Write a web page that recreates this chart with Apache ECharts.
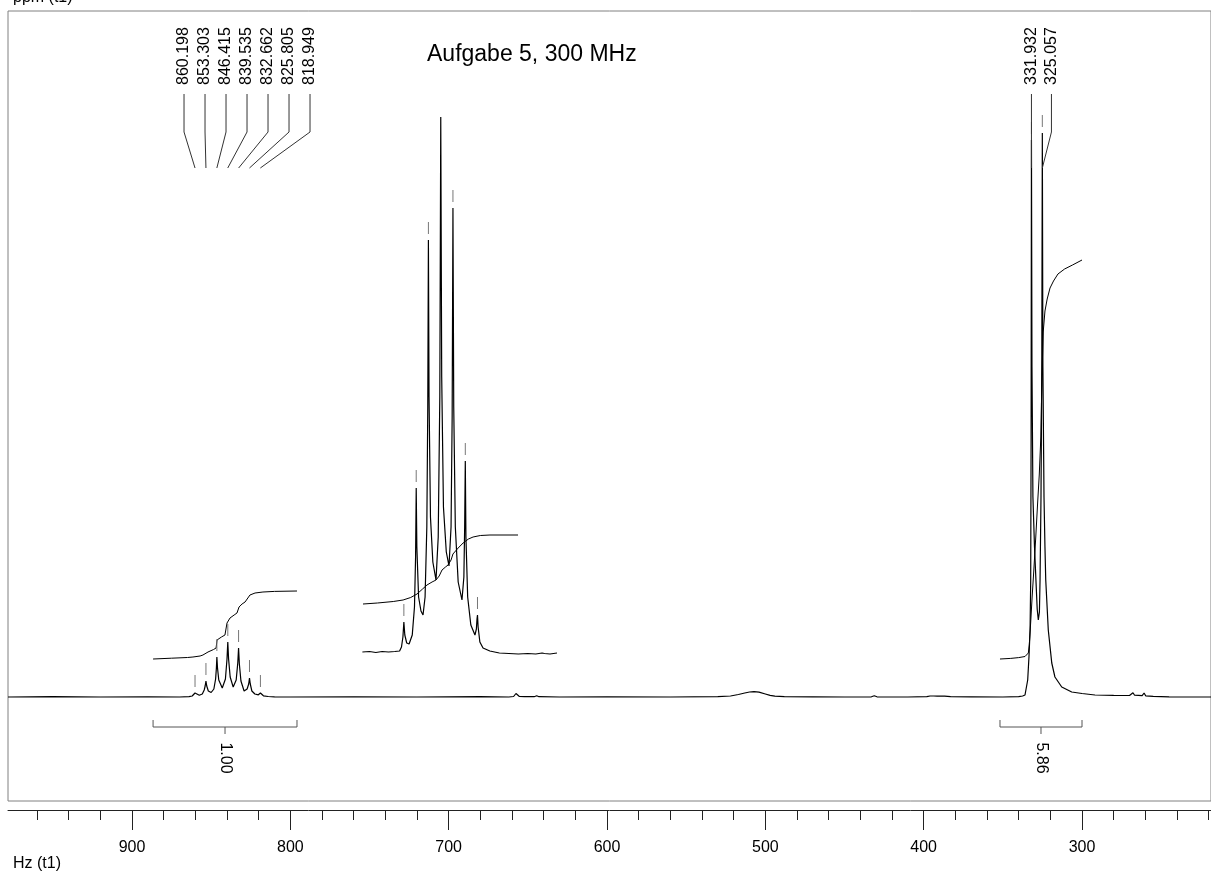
<!DOCTYPE html>
<html>
<head>
<meta charset="utf-8">
<title>Aufgabe 5, 300 MHz</title>
<script src="https://cdn.jsdelivr.net/npm/echarts@6.0.0/dist/echarts.min.js"></script>
<style>
  html, body { margin: 0; padding: 0; background: #fff; }
  #chart { width: 1211px; height: 873px; }
</style>
</head>
<body>
<div id="chart"></div>
<script>
// all traces are [Hz, intensity]
var spectrum = [
  [978.3, 0], [950, 0.3], [920, 0], [890, 0.2], [870, 0],
  [864, 0.4], [862, 1], [861, 2.3], [860.2, 4], [859.4, 2.3], [857.5, 1.8],
  [855.6, 3], [854.4, 7], [853.8, 11], [853.3, 16], [852.8, 11], [851.8, 6], [850.0, 4.5],
  [848.3, 8], [847.2, 18], [846.7, 29], [846.4, 40], [846.0, 29], [845.2, 17], [843.0, 9],
  [841.0, 18], [840.0, 38], [839.5, 55], [839.0, 38], [838.0, 20], [836.1, 10],
  [834.2, 17], [833.2, 34], [832.7, 49], [832.2, 33], [831.2, 16], [829.2, 6],
  [827.3, 8], [826.3, 13], [825.8, 19], [825.3, 13], [824.3, 6], [822.4, 3],
  [820.2, 2.2], [819.4, 3], [818.9, 4], [818.4, 2.5], [817, 1.2], [814, 0.5], [810, 0.2],
  [800, 0], [760, 0.2], [720, 0], [680, 0.3], [662, 0], [659, 0.5], [658, 2], [657.5, 3.5],
  [657, 2], [655.5, 0.7], [652, 0.3], [646, 0.3], [644.4, 1.2], [643, 0.3], [630, 0],
  [600, 0.2], [560, 0], [530, 0.3], [522, 1], [517, 2.5], [513, 4], [510, 5], [507.2, 5.4],
  [504, 4.8], [500, 3], [497, 1.6], [494, 0.8], [488, 0.4], [470, 0.2], [450, 0],
  [433, 0.2], [431.2, 1.2], [429.5, 0.2], [410, 0], [398, 0.3], [396, 1], [394.9, 2.7],
  [393.6, 1], [391.5, 0.8], [389.2, 1], [388.0, 2.7], [386.8, 0.8], [383, 0.4], [370, 0.2],
  [350, 0], [340, 0.3], [337.5, 1], [336.0, 2], [334.3, 17], [333.5, 40], [332.8, 67],
  [332.4, 117], [332.15, 260], [331.93, 557], [331.6, 330], [331.0, 200], [330.0, 150],
  [329.1, 117], [328.3, 88], [327.6, 77], [326.9, 85], [326.5, 117], [325.9, 200],
  [325.4, 330], [325.06, 564], [324.7, 330], [324.0, 200], [323.4, 150], [322.9, 117],
  [321.3, 67], [319.1, 34], [317.1, 20], [312.8, 10], [306.5, 5], [300, 3.5], [291.8, 2],
  [280, 1.6], [270, 1.5], [268.8, 2], [267.8, 4.3], [266.8, 1.8], [262, 1.4], [260.8, 4],
  [259.8, 1.2], [255, 0.6], [245, 0.2], [218.5, 0]
];

// vertically expanded copy of the septet, drawn above the baseline
var insetSpectrum = [
  [754.5, 45], [750, 45.5], [746, 44.5], [742, 45.5], [738, 45], [734, 45.5], [731, 46],
  [729.8, 50], [728.9, 60], [728.3, 75], [727.7, 62], [726.5, 54], [725.0, 53],
  [723.0, 62], [721.6, 90], [720.9, 140], [720.5, 209], [720.1, 150], [719.0, 100],
  [717.5, 86], [716.2, 82], [714.9, 100], [713.8, 170], [713.2, 290], [712.8, 457],
  [712.4, 300], [711.5, 180], [710.0, 135], [708.0, 117], [706.6, 160], [705.6, 300],
  [705.0, 580], [704.4, 320], [703.3, 190], [701.5, 145], [699.8, 131], [698.5, 170],
  [697.8, 280], [697.3, 489], [696.8, 290], [695.8, 170], [694.0, 115], [691.6, 97],
  [690.4, 120], [689.9, 170], [689.5, 236], [689.1, 160], [688.0, 100], [686.0, 72],
  [683.4, 62], [682.5, 68], [682.1, 78], [681.8, 82], [681.4, 70], [680.3, 55], [678.3, 49],
  [674, 46], [668, 44], [662, 43.5], [656, 43], [650, 43.5], [645, 43], [641, 44],
  [640.4, 46], [639.5, 43.5], [636, 43], [631.6, 44]
];

var integralSeptet = [
  [886.7, 38], [875, 38.8], [865, 39.5], [861.5, 40], [857, 41], [855.2, 42], [852.0, 45],
  [848.5, 47.5], [846.9, 49], [846.3, 57], [843.5, 60], [841.3, 62], [840.0, 74],
  [838.1, 79], [835.5, 82], [833.7, 84], [832.4, 90], [830.5, 93], [828.6, 95],
  [825.5, 102], [822.3, 104], [817.3, 105], [810, 105.6], [795.8, 106]
];

var integralDoublet = [
  [351.8, 38], [345, 38.6], [340, 39.4], [336.0, 40.5], [333.9, 44], [333.3, 52],
  [332.4, 75], [331.5, 100], [330.5, 125], [329.2, 160], [328.0, 195], [327.0, 222],
  [326.0, 260], [325.3, 320], [324.5, 365], [323.4, 386], [322.0, 398], [320.2, 409],
  [318.0, 416], [315.2, 423], [311, 428], [306, 432], [300.0, 437]
];

var integralInset = [
  [754.1, 93], [745, 94], [735, 95.5], [728.8, 97], [724, 99.5], [720.0, 103],
  [716.5, 108], [713.7, 112], [710.5, 115], [708.0, 117], [706, 121], [704.2, 127],
  [702, 130], [700.4, 132], [698.5, 137], [697.3, 143], [694, 149], [690.9, 154],
  [687.5, 158], [684.6, 160], [680, 161.5], [673.9, 162], [656.2, 162]
];

// peak picking
var septetPeaks = [860.198, 853.303, 846.415, 839.535, 832.662, 825.805, 818.949];
var doubletPeaks = [331.932, 325.057];

// small "|" marks above picked peaks [Hz, peak top]
var markedPeaks = [
  [860.2, 4], [853.3, 16], [846.4, 40], [839.5, 55], [832.7, 49], [825.8, 19], [818.9, 4],
  [331.93, 557], [325.06, 564],
  [728.3, 75], [720.5, 209], [712.8, 457], [697.3, 489], [689.5, 236], [681.8, 82]
];

// integration ranges [from, to] and values
var integralRanges = [[886.7, 795.8], [351.8, 300.0]];
var integralValues = [1.00, 5.86];

var majorTicks = [300, 400, 500, 600, 700, 800, 900];
var minorTicks = [220, 240, 260, 280, 300, 320, 340, 360, 380, 400, 420, 440, 460, 480, 500,
  520, 540, 560, 580, 600, 620, 640, 660, 680, 700, 720, 740, 760, 780, 800, 820, 840,
  860, 880, 900, 920, 940, 960];

var FONT = '"Liberation Sans", Arial, sans-serif';

// label spreading per group: pixel offset of first label from first peak, spacing
var labelLayout = [
  { first: septetPeaks[0], offset: -11, spacing: 21 },
  { first: doubletPeaks[0], offset: 0, spacing: 20 }
];

var labelData = septetPeaks.map(function (v, i) { return [v, 0, 0, i]; })
  .concat(doubletPeaks.map(function (v, i) { return [v, 0, 1, i]; }));

var bracketData = integralRanges.map(function (r, i) {
  return [r[0], 0, r[1], integralValues[i]];
});

function renderPeakLabel(params, api) {
  var lay = labelLayout[api.value(2)];
  var top = params.coordSys.y;
  var px = api.coord([api.value(0), 0])[0];
  var lx = api.coord([lay.first, 0])[0] + lay.offset + api.value(3) * lay.spacing;
  return {
    type: 'group',
    children: [
      {
        type: 'polyline',
        shape: { points: [[lx, top + 83], [lx, top + 121], [px, top + 157]] },
        style: { stroke: '#333', lineWidth: 1, fill: 'none' }
      },
      {
        type: 'text',
        x: lx, y: top + 74,
        rotation: Math.PI / 2,
        style: {
          text: api.value(0).toFixed(3), fill: '#000',
          fontSize: 16, fontFamily: FONT,
          align: 'left', verticalAlign: 'middle'
        }
      }
    ]
  };
}

function renderMark(params, api) {
  var p = api.coord([api.value(0), api.value(1)]);
  return {
    type: 'line',
    shape: { x1: p[0], y1: p[1] - 18, x2: p[0], y2: p[1] - 6 },
    style: { stroke: '#777', lineWidth: 1 }
  };
}

function renderBracket(params, api) {
  var a = api.coord([api.value(0), 0]);
  var b = api.coord([api.value(2), 0]);
  var mid = (a[0] + b[0]) / 2;
  var y = a[1];
  return {
    type: 'group',
    children: [
      {
        type: 'polyline',
        shape: { points: [[a[0], y + 23], [a[0], y + 30], [b[0], y + 30], [b[0], y + 23]] },
        style: { stroke: '#555', lineWidth: 1, fill: 'none' }
      },
      {
        type: 'line',
        shape: { x1: mid, y1: y + 30, x2: mid, y2: y + 37 },
        style: { stroke: '#555', lineWidth: 1 }
      },
      {
        type: 'text',
        x: mid, y: y + 61,
        rotation: -Math.PI / 2,
        style: {
          text: api.value(3).toFixed(2), fill: '#000',
          fontSize: 16, fontFamily: FONT,
          align: 'center', verticalAlign: 'middle'
        }
      }
    ]
  };
}

var chart = echarts.init(document.getElementById('chart'));

var lineSeries = function (name, data, width) {
  return {
    name: name,
    type: 'line',
    data: data,
    showSymbol: false,
    symbol: 'none',
    lineStyle: { color: '#000', width: width },
    z: 3
  };
};

var option = {
  animation: false,
  backgroundColor: '#fff',
  title: {
    text: 'Aufgabe 5, 300 MHz',
    left: 427,
    top: 43,
    padding: 0,
    textStyle: { fontSize: 23, fontWeight: 'normal', color: '#000', fontFamily: FONT }
  },
  grid: {
    left: 8, right: 0, top: 11, bottom: 72,
    show: true,
    borderColor: '#808080',
    borderWidth: 1,
    backgroundColor: 'transparent'
  },
  xAxis: [
    {
      type: 'value',
      position: 'bottom',
      offset: 9,
      inverse: true,
      min: 218.53,
      max: 978.32,
      axisLine: { show: true, onZero: false, lineStyle: { color: '#222', width: 1 } },
      axisTick: { show: true, inside: false, length: 20, customValues: majorTicks, lineStyle: { color: '#222' } },
      axisLabel: { show: true, margin: 30, customValues: majorTicks, color: '#000', fontSize: 16, fontFamily: FONT },
      splitLine: { show: false }
    },
    {
      type: 'value',
      position: 'bottom',
      offset: 9,
      inverse: true,
      min: 218.53,
      max: 978.32,
      axisLine: { show: false, onZero: false },
      axisTick: { show: true, inside: false, length: 10, customValues: minorTicks, lineStyle: { color: '#222' } },
      axisLabel: { show: false },
      splitLine: { show: false }
    }
  ],
  yAxis: {
    type: 'value',
    min: -104,
    max: 686,
    show: false
  },
  graphic: [
    { type: 'text', left: 13, top: -10, style: { text: 'ppm (t1)', fontSize: 16, fontFamily: FONT, fill: '#000' } },
    { type: 'text', left: 13, top: 856, style: { text: 'Hz (t1)', fontSize: 16, fontFamily: FONT, fill: '#000' } }
  ],
  series: [
    lineSeries('spectrum', spectrum, 1.2),
    lineSeries('inset', insetSpectrum, 1.2),
    lineSeries('integral 1', integralSeptet, 1),
    lineSeries('integral 2', integralDoublet, 1),
    lineSeries('integral inset', integralInset, 1),
    {
      name: 'marks',
      type: 'custom',
      renderItem: renderMark,
      data: markedPeaks,
      encode: { x: 0, y: 1 },
      z: 4
    },
    {
      name: 'peak labels',
      type: 'custom',
      renderItem: renderPeakLabel,
      data: labelData,
      encode: { x: 0, y: 1 },
      clip: false,
      z: 4
    },
    {
      name: 'integral brackets',
      type: 'custom',
      renderItem: renderBracket,
      data: bracketData,
      encode: { x: 0, y: 1 },
      clip: false,
      z: 4
    }
  ]
};

chart.setOption(option);
</script>
</body>
</html>
